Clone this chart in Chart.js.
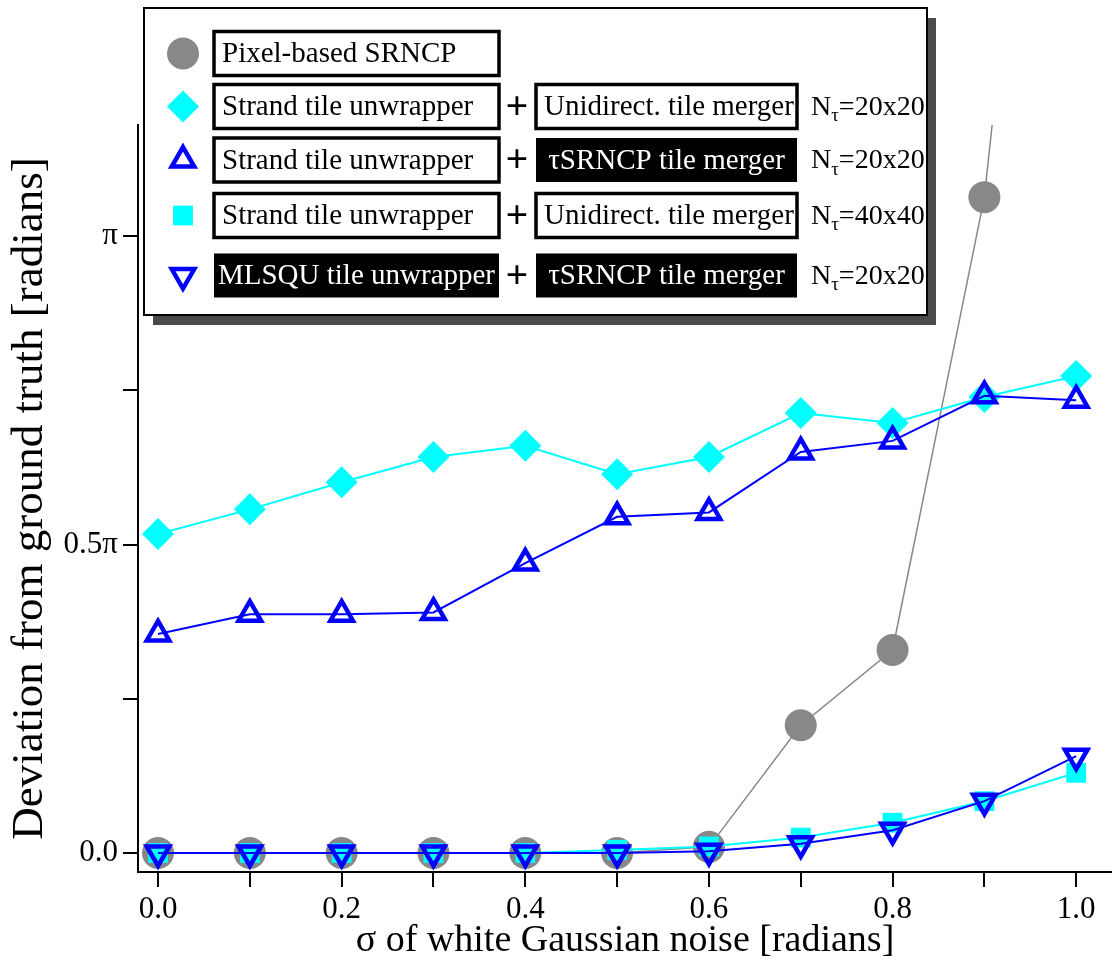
<!DOCTYPE html>
<html>
<head>
<meta charset="utf-8">
<script src="https://cdn.jsdelivr.net/npm/chart.js@4/dist/chart.umd.min.js"></script>
<style>
  html, body { margin: 0; padding: 0; background: #fff; overflow: hidden; }
  canvas { display: block; }
</style>
</head>
<body>
<canvas id="myChart" width="1112" height="964"></canvas>
<script>
// x: sigma of the noise, y: deviation in units of pi
const noiseLevels = [0.0, 0.1, 0.2, 0.3, 0.4, 0.5, 0.6, 0.7, 0.8, 0.9, 1.0]
const pixelSrncp = [0, 0, 0, 0, 0, 0, 0.01, 0.207, 0.329, 1.063, 2.45]
const strandUnidir20 = [0.517, 0.557, 0.601, 0.642, 0.660, 0.614, 0.642, 0.713, 0.697, 0.739, 0.773]
const strandTau20 = [0.355, 0.387, 0.387, 0.390, 0.470, 0.545, 0.552, 0.650, 0.668, 0.741, 0.734]
const strandUnidir40 = [0, 0, 0, 0, 0, 0.005, 0.0105, 0.025, 0.049, 0.084, 0.130]
const mlsquTau20 = [0, 0, 0, 0, 0, 0, 0.003, 0.015, 0.037, 0.084, 0.157]

const xTicks = [0, 0.1, 0.2, 0.3, 0.4, 0.5, 0.6, 0.7, 0.8, 0.9, 1.0]
const yTicks = [0, 0.25, 0.5, 0.75, 1]
const yTickLabels = ['0.0', '', '0.5π', '', 'π']

// legend rows, same order as the datasets
const unwrapperLabels = ['Pixel-based SRNCP', 'Strand tile unwrapper', 'Strand tile unwrapper', 'Strand tile unwrapper', 'MLSQU tile unwrapper']
const mergerLabels = [null, 'Unidirect. tile merger', 'τSRNCP tile merger', 'Unidirect. tile merger', 'τSRNCP tile merger']
const tileSizes = [null, '20x20', '20x20', '40x40', '20x20']

const darkBoxes = ['MLSQU tile unwrapper', 'τSRNCP tile merger']
const serif = "'Liberation Serif', 'DejaVu Serif', serif"

const pts = (ys) => noiseLevels.map((x, i) => ({ x: x, y: ys[i] }))

const datasets = [
  {
    label: unwrapperLabels[0], data: pts(pixelSrncp), order: 5,
    borderColor: '#888888', borderWidth: 1.5,
    pointStyle: 'circle', pointRadius: 16, pointBackgroundColor: '#888888',
    pointBorderColor: '#888888', pointBorderWidth: 0
  },
  {
    label: 'strand-unidir-20', data: pts(strandUnidir20), order: 4,
    borderColor: '#00ffff', borderWidth: 2,
    pointStyle: 'rectRot', pointRadius: 16, pointBackgroundColor: '#00ffff',
    pointBorderColor: '#00ffff', pointBorderWidth: 0
  },
  {
    label: 'strand-tau-20', data: pts(strandTau20), order: 3,
    borderColor: '#0000ff', borderWidth: 2,
    pointStyle: 'triangle', pointRadius: 13, pointBackgroundColor: 'rgba(0,0,0,0)',
    pointBorderColor: '#0000ff', pointBorderWidth: 4.5
  },
  {
    label: 'strand-unidir-40', data: pts(strandUnidir40), order: 2,
    borderColor: '#00ffff', borderWidth: 2,
    pointStyle: 'rect', pointRadius: 14, pointBackgroundColor: '#00ffff',
    pointBorderColor: '#00ffff', pointBorderWidth: 0
  },
  {
    label: 'mlsqu-tau-20', data: pts(mlsquTau20), order: 1,
    borderColor: '#0000ff', borderWidth: 2,
    pointStyle: 'triangle', pointRotation: 180, pointRadius: 13, pointBackgroundColor: 'rgba(0,0,0,0)',
    pointBorderColor: '#0000ff', pointBorderWidth: 4.5
  }
]

// boxed legend with drop shadow, drawn on the canvas
const boxLegend = {
  id: 'boxLegend',
  afterDraw(chart) {
    const ctx = chart.ctx
    const left = 144, top = 8, w = 783, h = 307
    const rowY = [53.5, 106.5, 160, 215.5, 275.5]
    const boxH = 44
    const col1 = [214, 285], col2 = [536, 261]
    ctx.save()
    ctx.fillStyle = '#4a4a4a'
    ctx.fillRect(left + 9, top + 10, w, h)
    ctx.fillStyle = '#fff'
    ctx.fillRect(left, top, w, h)
    ctx.strokeStyle = '#000'
    ctx.lineWidth = 2
    ctx.strokeRect(left, top, w, h)

    const drawBox = (text, col, y) => {
      const dark = darkBoxes.includes(text)
      const bx = col[0], bw = col[1], by = y - boxH / 2
      ctx.font = '29px ' + serif
      ctx.textBaseline = 'middle'
      if (dark) {
        ctx.fillStyle = '#000'
        ctx.fillRect(bx, by, bw, boxH)
        ctx.fillStyle = '#fff'
        ctx.textAlign = 'center'
        ctx.fillText(text, bx + bw / 2, y + 1)
      } else {
        ctx.fillStyle = '#fff'
        ctx.fillRect(bx, by, bw, boxH)
        ctx.strokeStyle = '#000'
        ctx.lineWidth = 3.5
        ctx.strokeRect(bx, by, bw, boxH)
        ctx.fillStyle = '#000'
        ctx.textAlign = 'left'
        ctx.fillText(text, bx + 8, y + 1)
      }
    }

    rowY.forEach((y, i) => {
      const ds = chart.data.datasets[i]
      ctx.fillStyle = ds.pointBackgroundColor
      ctx.strokeStyle = ds.pointBorderColor
      ctx.lineWidth = ds.pointBorderWidth
      ctx.lineJoin = 'miter'
      Chart.helpers.drawPoint(ctx, {
        pointStyle: ds.pointStyle,
        rotation: ds.pointRotation || 0,
        radius: ds.pointRadius,
        borderWidth: ds.pointBorderWidth
      }, 183, y)

      drawBox(unwrapperLabels[i], col1, y)
      if (mergerLabels[i]) {
        ctx.fillStyle = '#000'
        ctx.font = 'bold 40px ' + serif
        ctx.textAlign = 'center'
        ctx.textBaseline = 'middle'
        ctx.fillText('+', 517, y + 2)
        drawBox(mergerLabels[i], col2, y)
      }
      if (tileSizes[i]) {
        let x = 811
        ctx.fillStyle = '#000'
        ctx.textAlign = 'left'
        ctx.textBaseline = 'middle'
        ctx.font = '28px ' + serif
        ctx.fillText('N', x, y + 1)
        x += ctx.measureText('N').width
        ctx.font = '19px ' + serif
        ctx.fillText('τ', x, y + 10)
        x += ctx.measureText('τ').width
        ctx.font = '28px ' + serif
        ctx.fillText('=' + tileSizes[i], x, y + 1)
      }
    })
    ctx.restore()
  }
}

const ctx = document.getElementById('myChart')
const chart = new Chart(ctx, {
  type: 'line',
  data: { datasets: datasets },
  options: {
    responsive: false,
    animation: false,
    events: [],
    layout: { autoPadding: false, padding: { top: 125, left: 0, right: 0, bottom: 0 } },
    elements: { line: { tension: 0 } },
    plugins: {
      legend: { display: false },
      tooltip: { enabled: false }
    },
    scales: {
      x: {
        type: 'linear',
        min: -0.0218,
        max: 1.039,
        afterBuildTicks: (scale) => { scale.ticks = xTicks.map(v => ({ value: v })) },
        afterFit: (scale) => {
          scale.height = 92
          scale.paddingLeft = 0
          scale.paddingRight = 0
        },
        border: { display: true, color: '#000', width: 2 },
        grid: { drawOnChartArea: false, drawTicks: true, tickLength: 15, tickColor: '#000', lineWidth: 2 },
        ticks: {
          autoSkip: false,
          maxRotation: 0,
          padding: 4,
          color: '#000',
          font: { family: serif, size: 31 },
          callback: (v) => (Math.round(v * 10) % 2 === 0 ? v.toFixed(1) : '')
        },
        title: {
          display: true,
          text: 'σ of white Gaussian noise [radians]',
          color: '#000',
          font: { family: serif, size: 38 },
          padding: { top: 0, bottom: 0 }
        }
      },
      y: {
        type: 'linear',
        min: -0.0308,
        max: 1.18,
        afterBuildTicks: (scale) => { scale.ticks = yTicks.map(v => ({ value: v })) },
        afterFit: (scale) => {
          scale.width = 138
          scale.paddingTop = 0
          scale.paddingBottom = 0
        },
        border: { display: true, color: '#000', width: 2 },
        grid: { drawOnChartArea: false, drawTicks: true, tickLength: 15, tickColor: '#000', lineWidth: 2 },
        ticks: {
          autoSkip: false,
          padding: 5,
          color: '#000',
          font: { family: serif, size: 31 },
          callback: (v, i) => yTickLabels[i]
        },
        title: {
          display: true,
          text: 'Deviation from ground truth [radians]',
          color: '#000',
          font: { family: serif, size: 45 },
          padding: { top: 3, bottom: 0 }
        }
      }
    }
  },
  plugins: [boxLegend]
})
</script>
</body>
</html>
